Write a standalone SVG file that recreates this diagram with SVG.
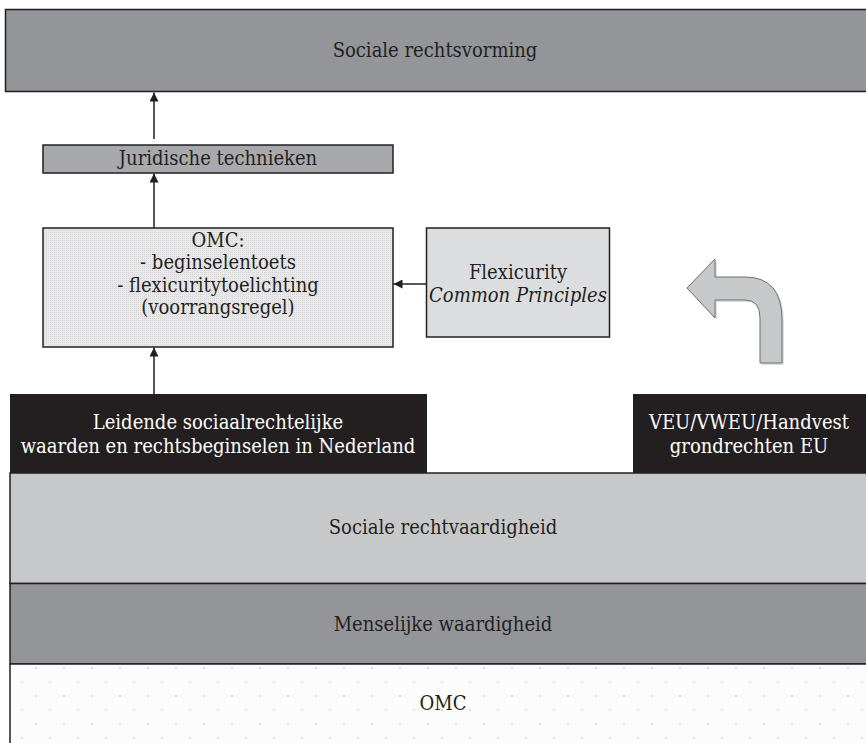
<svg xmlns="http://www.w3.org/2000/svg" width="866" height="743" viewBox="0 0 866 743">
<defs>
<style>
.t{font-family:"DejaVu Serif","Liberation Serif",serif;font-stretch:condensed;font-size:20px;fill:#231f20;text-anchor:middle}
.w{fill:#ffffff}
.b{stroke:#231f20;stroke-width:1.5}
.c{stroke:#231f20;stroke-width:1.5;fill:none}
</style>
<pattern id="halftone" patternUnits="userSpaceOnUse" width="2" height="2">
<rect width="2" height="2" fill="#e9e9ea"/>
<rect width="1" height="1" fill="#d6d6d8"/>
</pattern>
<pattern id="dots" patternUnits="userSpaceOnUse" x="0" y="664" width="28" height="28">
<rect width="28" height="28" fill="#fcfcfc"/>
<circle cx="8" cy="4" r="1" fill="#d4d4d6"/>
<circle cx="22" cy="18" r="1" fill="#d4d4d6"/>
</pattern>
<marker id="ah" viewBox="0 0 10 10" refX="10" refY="5" markerWidth="10" markerHeight="9" markerUnits="userSpaceOnUse" orient="auto">
<path d="M0,0 L10,5 L0,10 Z" fill="#231f20"/>
</marker>
</defs>
<rect width="866" height="743" fill="#ffffff"/>

<g id="sociale-rechtsvorming">
<rect class="b" x="5.5" y="9.5" width="870" height="82" fill="#939598"/>
<text class="t" x="435" y="57">Sociale rechtsvorming</text>
</g>

<g id="juridische-technieken">
<rect class="b" x="43" y="145" width="350" height="28" fill="#a7a9ac"/>
<text class="t" x="218" y="165">Juridische technieken</text>
</g>

<g id="omc-box">
<rect class="b" x="43" y="228" width="350" height="119" fill="url(#halftone)"/>
<text class="t" x="218" y="247">OMC:</text>
<text class="t" x="218" y="269">- beginselentoets</text>
<text class="t" x="218" y="292">- flexicuritytoelichting</text>
<text class="t" x="218" y="314">(voorrangsregel)</text>
</g>

<g id="flexicurity">
<rect class="b" x="426.5" y="228" width="183" height="109" fill="#dcddde"/>
<text class="t" x="518" y="279">Flexicurity</text>
<text class="t" x="518" y="302" font-style="italic">Common Principles</text>
</g>

<g id="sociale-rechtvaardigheid">
<rect class="b" x="10" y="473" width="870" height="110.5" fill="#c7c8ca"/>
<text class="t" x="443" y="534">Sociale rechtvaardigheid</text>
</g>

<g id="leidende-waarden">
<rect x="10" y="394" width="417" height="79" fill="#231f20"/>
<text class="t w" x="218" y="429">Leidende sociaalrechtelijke</text>
<text class="t w" x="218" y="453">waarden en rechtsbeginselen in Nederland</text>
</g>

<g id="veu-vweu">
<rect x="633" y="394" width="240" height="79" fill="#231f20"/>
<text class="t w" x="749" y="429">VEU/VWEU/Handvest</text>
<text class="t w" x="749" y="453">grondrechten EU</text>
</g>

<g id="menselijke-waardigheid">
<rect class="b" x="10" y="583.5" width="870" height="80.5" fill="#939598"/>
<text class="t" x="443" y="631">Menselijke waardigheid</text>
</g>

<g id="omc-bottom">
<rect x="10" y="664" width="870" height="90" fill="url(#dots)"/>
<path class="c" d="M10,664 L10,743 M10,664 L866,664"/>
<text class="t" x="443" y="710">OMC</text>
</g>

<g id="curved-arrow">
<path d="M689,290 L717,261 L717,279 L747,279 Q784,279 784,322 L784,365 L762,365 L762,320 Q762,302 747,302 L717,302 L717,320 Z" fill="#c7c8ca" opacity="0.6"/>
<path d="M687,288 L715,259 L715,277 L745,277 Q782,277 782,320 L782,363 L760,363 L760,318 Q760,300 745,300 L715,300 L715,318 Z" fill="#c7c8ca" stroke="#6d6e71" stroke-width="1"/>
</g>

<g id="connectors">
<line class="c" x1="154" y1="139" x2="154" y2="92.5" marker-end="url(#ah)"/>
<line class="c" x1="154" y1="228" x2="154" y2="173.5" marker-end="url(#ah)"/>
<line class="c" x1="154" y1="394" x2="154" y2="347.5" marker-end="url(#ah)"/>
<line class="c" x1="426" y1="284" x2="393.5" y2="284" marker-end="url(#ah)"/>
</g>
</svg>
